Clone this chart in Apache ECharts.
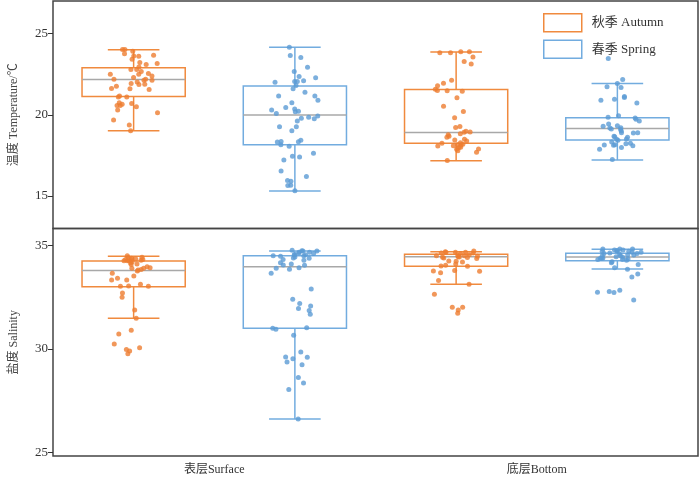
<!DOCTYPE html>
<html>
<head>
<meta charset="utf-8">
<script src="https://cdn.jsdelivr.net/npm/echarts@6/dist/echarts.min.js"></script>
<style>html,body{margin:0;padding:0;background:#fff;}#c{width:700px;height:479px;}</style>
</head>
<body>
<div id="c"></div>
<script>
// ---- data ----
const groups = ['表层Surface', '底层Bottom'];
const seasons = ['秋季 Autumn', '春季 Spring'];
const tempTicks = [15, 20, 25];
const salTicks = [25, 30, 35];

// box stats [min, Q1, median, Q3, max] per group (Surface, Bottom)
const tempBoxAutumn = [[19.01, 21.12, 22.17, 22.90, 24.00], [17.17, 18.24, 18.91, 21.55, 23.86]];
const tempBoxSpring = [[15.31, 18.15, 19.98, 21.77, 24.15], [17.21, 18.44, 19.16, 19.81, 21.92]];
const salBoxAutumn = [[31.48, 33.00, 33.79, 34.24, 34.47], [33.12, 33.99, 34.45, 34.57, 34.69]];
const salBoxSpring = [[26.62, 31.00, 33.96, 34.49, 34.73], [33.86, 34.26, 34.44, 34.62, 34.81]];

// individual samples
const tempSurfaceAutumn = [24.01, 24.01, 23.91, 23.76, 23.66, 23.60, 23.62, 23.42, 23.21, 23.15, 23.09, 22.94, 22.78, 22.78, 22.66, 22.54, 22.49, 22.49, 22.39, 22.29, 22.19, 22.19, 22.13, 22.13, 22.02, 21.92, 21.88, 21.86, 21.76, 21.62, 21.60, 21.55, 21.15, 21.10, 21.10, 20.74, 20.70, 20.65, 20.57, 20.49, 20.57, 20.29, 20.12, 19.67, 19.37, 19.02];
const tempSurfaceSpring = [24.15, 23.64, 23.52, 22.92, 22.66, 22.35, 22.27, 22.09, 22.04, 22.04, 22.00, 21.80, 21.60, 21.39, 21.15, 21.15, 20.90, 20.74, 20.45, 20.35, 20.29, 20.22, 20.18, 20.08, 19.92, 19.84, 19.75, 19.78, 19.61, 19.26, 19.26, 19.02, 18.43, 18.36, 18.32, 18.34, 18.16, 18.06, 17.63, 17.44, 17.40, 17.22, 16.54, 16.20, 15.91, 15.95, 15.66, 15.64, 15.32];
const tempBottomAutumn = [23.87, 23.87, 23.81, 23.81, 23.56, 23.27, 23.13, 22.13, 21.94, 21.78, 21.57, 21.49, 21.47, 21.45, 21.04, 20.53, 20.20, 19.82, 19.22, 19.28, 18.98, 18.94, 18.92, 18.83, 18.77, 18.67, 18.61, 18.49, 18.45, 18.38, 18.28, 18.24, 18.18, 18.16, 18.14, 18.08, 18.10, 18.00, 17.98, 17.89, 17.87, 17.79, 17.69, 17.18];
const tempBottomSpring = [23.46, 22.17, 21.92, 21.72, 21.68, 21.12, 21.06, 20.96, 20.90, 20.72, 19.94, 19.84, 19.80, 19.73, 19.61, 19.43, 19.30, 19.33, 19.20, 19.18, 19.12, 19.10, 19.00, 18.90, 18.90, 18.88, 18.67, 18.65, 18.61, 18.51, 18.49, 18.43, 18.32, 18.24, 18.22, 18.16, 18.14, 18.12, 18.10, 17.98, 17.87, 17.24];
const salSurfaceAutumn = [34.49, 34.42, 34.41, 34.38, 34.34, 34.32, 34.31, 34.28, 34.26, 34.26, 34.26, 34.31, 34.21, 34.15, 34.10, 34.08, 33.97, 33.92, 33.89, 33.89, 33.83, 33.81, 33.76, 33.65, 33.52, 33.41, 33.33, 33.33, 33.12, 33.04, 33.02, 33.02, 32.70, 32.49, 31.88, 31.48, 30.90, 30.72, 30.24, 30.06, 29.98, 29.90, 29.77];
const salSurfaceSpring = [34.55, 34.76, 34.74, 34.73, 34.73, 34.66, 34.66, 34.63, 34.60, 34.55, 34.55, 34.50, 34.50, 34.47, 34.44, 34.39, 34.37, 34.32, 34.28, 34.16, 34.10, 34.05, 34.04, 33.92, 33.89, 33.84, 33.65, 32.89, 32.40, 32.19, 32.07, 31.95, 31.86, 31.67, 31.03, 31.00, 30.95, 30.66, 29.86, 29.61, 29.60, 29.53, 29.37, 29.24, 28.62, 28.36, 28.05, 26.62];
const salBottomAutumn = [34.73, 34.69, 34.66, 34.66, 34.66, 34.63, 34.63, 34.60, 34.55, 34.50, 34.50, 34.49, 34.47, 34.45, 34.44, 34.42, 34.41, 34.39, 34.36, 34.24, 34.23, 34.20, 34.10, 34.00, 33.99, 34.04, 33.78, 33.75, 33.76, 33.68, 33.30, 33.12, 32.64, 32.01, 32.01, 31.88, 31.72];
const salBottomSpring = [34.82, 34.82, 34.82, 34.77, 34.77, 34.74, 34.74, 34.71, 34.71, 34.66, 34.66, 34.63, 34.60, 34.60, 34.58, 34.53, 34.53, 34.49, 34.49, 34.45, 34.42, 34.39, 34.37, 34.37, 34.34, 34.32, 34.32, 34.28, 34.21, 34.16, 34.07, 33.92, 33.84, 33.62, 33.47, 32.83, 32.77, 32.72, 32.73, 32.36];

// ---- styling / layout ----
const ORANGE = '#ED7D31', ORANGE_BOX = '#F08A3E';
const BLUE = '#5B9BD5', BLUE_BOX = '#72ACDF';
const FONT = '"Liberation Serif", "Noto Sans CJK SC", serif';

// slot position on the hidden 0..4 value axis
function slot(groupIdx, seasonIdx) { return groupIdx * 2 + seasonIdx + 0.5; }
// deterministic hash-based horizontal spread (layout only, not data)
function hash(n) { const s = Math.sin(n * 12.9898 + 78.233) * 43758.5453; return s - Math.floor(s); }
function spread(i, seed) {
  const a = hash(i + seed * 101), b = hash(i * 3.7 + seed * 57 + 11);
  return (a + b - 1) * 0.16;
}

function boxData(stats, seasonIdx) {
  return stats.map((s, g) => [slot(g, seasonIdx)].concat(s));
}
function pointData(vals, groupIdx, seasonIdx, seed) {
  return vals.map((v, i) => [slot(groupIdx, seasonIdx) + spread(i, seed), v]);
}

function makeRender(color) {
  return function (params, api) {
    const x = api.value(0);
    const pMin = api.coord([x, api.value(1)]);
    const pQ1 = api.coord([x, api.value(2)]);
    const pMed = api.coord([x, api.value(3)]);
    const pQ3 = api.coord([x, api.value(4)]);
    const pMax = api.coord([x, api.value(5)]);
    const unit = api.size([1, 0])[0];
    const w = unit * 0.64, c = w / 4;
    const cx = pMed[0];
    const ls = { stroke: color, lineWidth: 1.5, fill: null };
    return {
      type: 'group',
      children: [
        { type: 'line', shape: { x1: cx, y1: pMax[1], x2: cx, y2: pQ3[1] }, style: ls },
        { type: 'line', shape: { x1: cx, y1: pQ1[1], x2: cx, y2: pMin[1] }, style: ls },
        { type: 'line', shape: { x1: cx - c, y1: pMax[1], x2: cx + c, y2: pMax[1] }, style: ls },
        { type: 'line', shape: { x1: cx - c, y1: pMin[1], x2: cx + c, y2: pMin[1] }, style: ls },
        { type: 'rect', shape: { x: cx - w / 2, y: pQ3[1], width: w, height: pQ1[1] - pQ3[1] }, style: { stroke: color, lineWidth: 1.5, fill: 'rgba(255,255,255,0)' } },
        { type: 'line', shape: { x1: cx - w / 2, y1: pMed[1], x2: cx + w / 2, y2: pMed[1] }, style: { stroke: '#A8A8A8', lineWidth: 1.5 } }
      ]
    };
  };
}

const yCommon = {
  type: 'value',
  axisLine: { show: false },
  axisTick: { show: true, length: 5, lineStyle: { color: '#333' } },
  axisLabel: { color: '#333', fontFamily: FONT, fontSize: 13, margin: 5 },
  splitLine: { show: false },
  nameLocation: 'middle',
  nameGap: 33,
  nameTextStyle: { color: '#444', fontFamily: FONT, fontSize: 12 }
};

const option = {
  animation: false,
  backgroundColor: '#fff',
  grid: [
    { left: 47, top: 1, width: 651, height: 227.5, show: true, borderColor: '#444', borderWidth: 1.5, backgroundColor: 'transparent' },
    { left: 47, top: 228.5, width: 651, height: 227.5, show: true, borderColor: '#444', borderWidth: 1.5, backgroundColor: 'transparent' }
  ],
  xAxis: [
    { type: 'value', gridIndex: 0, min: 0, max: 4, show: false },
    { type: 'value', gridIndex: 1, min: 0, max: 4, show: false },
    { type: 'category', gridIndex: 1, data: groups, position: 'bottom',
      axisLine: { show: false }, axisTick: { show: false }, splitLine: { show: false },
      axisLabel: { color: '#333', fontFamily: FONT, fontSize: 12, margin: 8 } }
  ],
  yAxis: [
    Object.assign({}, yCommon, { gridIndex: 0, min: 13, max: 27, name: '温度 Temperature/℃',
      axisTick: Object.assign({}, yCommon.axisTick, { customValues: tempTicks }),
      axisLabel: Object.assign({}, yCommon.axisLabel, { customValues: tempTicks }) }),
    Object.assign({}, yCommon, { gridIndex: 1, min: 24.84, max: 35.81, name: '盐度 Salinity',
      axisTick: Object.assign({}, yCommon.axisTick, { customValues: salTicks }),
      axisLabel: Object.assign({}, yCommon.axisLabel, { customValues: salTicks }) })
  ],
  legend: {
    orient: 'vertical', left: 538, top: 8, itemWidth: 38, itemHeight: 18, itemGap: 7,
    textStyle: { color: '#333', fontFamily: FONT, fontSize: 13, padding: [0, 0, 0, 5] },
    selectedMode: false,
    data: [
      { name: seasons[0], icon: 'rect', itemStyle: { color: '#fff', borderColor: ORANGE_BOX, borderWidth: 1.5 } },
      { name: seasons[1], icon: 'rect', itemStyle: { color: '#fff', borderColor: BLUE_BOX, borderWidth: 1.5 } }
    ]
  },
  series: [
    { name: seasons[0], type: 'custom', xAxisIndex: 0, yAxisIndex: 0, renderItem: makeRender(ORANGE_BOX), data: boxData(tempBoxAutumn, 0), itemStyle: { color: ORANGE }, z: 2 },
    { name: seasons[1], type: 'custom', xAxisIndex: 0, yAxisIndex: 0, renderItem: makeRender(BLUE_BOX), data: boxData(tempBoxSpring, 1), itemStyle: { color: BLUE }, z: 2 },
    { name: seasons[0], type: 'custom', xAxisIndex: 1, yAxisIndex: 1, renderItem: makeRender(ORANGE_BOX), data: boxData(salBoxAutumn, 0), itemStyle: { color: ORANGE }, z: 2 },
    { name: seasons[1], type: 'custom', xAxisIndex: 1, yAxisIndex: 1, renderItem: makeRender(BLUE_BOX), data: boxData(salBoxSpring, 1), itemStyle: { color: BLUE }, z: 2 },

    { name: seasons[0], type: 'scatter', xAxisIndex: 0, yAxisIndex: 0, symbolSize: 5, itemStyle: { color: ORANGE }, z: 3, data: pointData(tempSurfaceAutumn, 0, 0, 1).concat(pointData(tempBottomAutumn, 1, 0, 2)) },
    { name: seasons[1], type: 'scatter', xAxisIndex: 0, yAxisIndex: 0, symbolSize: 5, itemStyle: { color: BLUE }, z: 3, data: pointData(tempSurfaceSpring, 0, 1, 3).concat(pointData(tempBottomSpring, 1, 1, 4)) },
    { name: seasons[0], type: 'scatter', xAxisIndex: 1, yAxisIndex: 1, symbolSize: 5, itemStyle: { color: ORANGE }, z: 3, data: pointData(salSurfaceAutumn, 0, 0, 5).concat(pointData(salBottomAutumn, 1, 0, 6)) },
    { name: seasons[1], type: 'scatter', xAxisIndex: 1, yAxisIndex: 1, symbolSize: 5, itemStyle: { color: BLUE }, z: 3, data: pointData(salSurfaceSpring, 0, 1, 7).concat(pointData(salBottomSpring, 1, 1, 8)) }
  ]
};

const chart = echarts.init(document.getElementById('c'), null, { renderer: 'canvas' });
chart.setOption(option);
</script>
</body>
</html>
